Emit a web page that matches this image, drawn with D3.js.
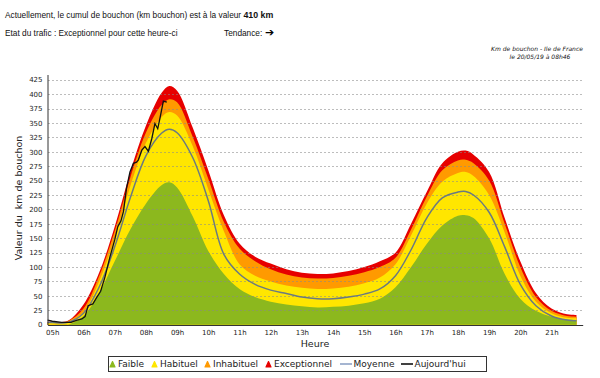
<!DOCTYPE html>
<html>
<head>
<meta charset="utf-8">
<script src="https://cdn.jsdelivr.net/npm/d3@7"></script>
<style>
  body { margin: 0; background: #fff; }
  svg text { font-family: "DejaVu Sans", Verdana, sans-serif; }
</style>
</head>
<body>
<div id="chart"></div>
<script>
// heures de la grille
let hours = [4.85, 5, 5.5, 6, 6.5, 7, 7.5, 8, 8.5, 8.75, 9, 9.5, 10, 10.5, 11, 11.5, 12, 12.5, 13, 13.5, 14, 14.5, 15, 15.5, 16, 16.5, 17, 17.5, 18, 18.25, 18.5, 19, 19.5, 20, 20.5, 21, 21.5, 21.8];

// bornes hautes de chaque niveau (km)
let faible =       [0, 0, 0, 15, 55, 110, 165, 210, 242, 247, 238, 188, 128, 88, 62, 48, 40, 35, 32, 30, 31, 33, 37, 45, 65, 100, 140, 172, 189, 190, 185, 150, 88, 45, 24, 14, 9, 8];
let habituel =     [3, 3, 4, 22, 75, 150, 240, 315, 360, 369, 363, 310, 235, 162, 105, 85, 75, 68, 64, 62, 63, 66, 72, 82, 105, 155, 210, 248, 263, 265, 258, 225, 160, 85, 40, 20, 12, 11];
let inhabituel =   [4, 4, 6, 28, 84, 162, 255, 333, 381, 391, 386, 326, 253, 178, 132, 110, 96, 87, 82, 80, 81, 85, 91, 100, 116, 165, 222, 268, 285, 286, 280, 250, 175, 100, 48, 24, 15, 14];
let exceptionnel = [5, 5, 7, 35, 90, 170, 265, 345, 402, 414, 406, 342, 268, 190, 141, 118, 106, 96, 90, 88, 89, 93, 100, 110, 125, 175, 230, 280, 300, 302, 295, 265, 185, 110, 55, 28, 18, 17];
let moyenne =      [4, 4, 4, 20, 65, 135, 220, 293, 332, 339, 333, 290, 215, 122, 88, 70, 60, 54, 48, 45, 45, 48, 53, 62, 85, 130, 185, 220, 230, 231, 225, 195, 135, 70, 33, 15, 8, 7];

// courbe du jour
let jourHeures = [4.85, 5, 5.3, 5.6, 5.8, 5.95, 6.05, 6.15, 6.3, 6.42, 6.55, 6.69, 6.85, 7, 7.1, 7.2, 7.28, 7.38, 7.49, 7.6, 7.7, 7.76, 7.87, 7.97, 8.08, 8.19, 8.29, 8.38, 8.45, 8.56, 8.67];
let jourValeurs = [8, 6, 4, 4, 8, 10, 14, 33, 36, 47, 58, 83, 118, 147, 170, 180, 196, 237, 265, 280, 282, 286, 303, 309, 301, 323, 349, 340, 358, 388, 386];

let xTicks = [5, 6, 7, 8, 9, 10, 11, 12, 13, 14, 15, 16, 17, 18, 19, 20, 21];
let yTicks = d3.range(0, 426, 25);

let legendItems = [
  { label: "Faible", color: "#8cb81e", kind: "area" },
  { label: "Habituel", color: "#ffe600", kind: "area" },
  { label: "Inhabituel", color: "#ff9a00", kind: "area" },
  { label: "Exceptionnel", color: "#e60000", kind: "area" },
  { label: "Moyenne", color: "#8ea2c6", kind: "line" },
  { label: "Aujourd'hui", color: "#111", kind: "line" }
];

let width = 600, height = 378;

let svg = d3.select("#chart").append("svg")
  .attr("width", width)
  .attr("height", height);

let x = d3.scaleLinear().domain([4.85, 22]).range([47.6, 582.7]);
let y = d3.scaleLinear().domain([0, 434]).range([324.7, 74.5]);

// en-tete
let head = svg.append("text").attr("x", 5).attr("y", 18)
  .style("font-family", "'Liberation Sans', Arial, sans-serif")
  .style("font-size", "8.3px").attr("fill", "#111");
head.append("tspan").text("Actuellement, le cumul de bouchon (km bouchon) est à la valeur ");
head.append("tspan").text("410 km").style("font-weight", "bold").style("font-size", "8.8px");

svg.append("text").attr("x", 5).attr("y", 35.5)
  .style("font-family", "'Liberation Sans', Arial, sans-serif")
  .style("font-size", "8.3px").attr("fill", "#111")
  .text("Etat du trafic : Exceptionnel pour cette heure-ci");

svg.append("text").attr("x", 224).attr("y", 35.5)
  .style("font-family", "'Liberation Sans', Arial, sans-serif")
  .style("font-size", "8.3px").attr("fill", "#111")
  .text("Tendance: ");
svg.append("text").attr("x", 265).attr("y", 36)
  .style("font-size", "11px").style("font-weight", "bold").attr("fill", "#000")
  .text("➔");

svg.append("text").attr("x", 537).attr("y", 51)
  .attr("text-anchor", "middle")
  .style("font-size", "6px").style("font-style", "italic").attr("fill", "#111")
  .text("Km de bouchon - Ile de France");
svg.append("text").attr("x", 540).attr("y", 58.5)
  .attr("text-anchor", "middle")
  .style("font-size", "6px").style("font-style", "italic").attr("fill", "#111")
  .text("le 20/05/19 à 08h46");

// aires
let series = [
  { values: exceptionnel, color: "#e60000" },
  { values: inhabituel, color: "#ff9a00" },
  { values: habituel, color: "#ffe600" },
  { values: faible, color: "#8cb81e" }
];

let curve = d3.curveCatmullRom.alpha(0.5);

let area = d3.area()
  .x(d => x(d[0]))
  .y0(y(0))
  .y1(d => y(Math.max(0, d[1])))
  .curve(curve);

series.forEach(s => {
  svg.append("path")
    .datum(hours.map((h, i) => [h, s.values[i]]))
    .attr("d", area)
    .attr("fill", s.color);
});

// grille
svg.append("g")
  .selectAll("line")
  .data(yTicks.filter(v => v > 0))
  .enter()
  .append("line")
  .attr("x1", 48).attr("x2", 583)
  .attr("y1", d => Math.round(y(d)) + 0.5)
  .attr("y2", d => Math.round(y(d)) + 0.5)
  .attr("stroke", "#888")
  .attr("stroke-opacity", 0.7)
  .attr("stroke-dasharray", "2,2")
  .attr("stroke-width", 0.8);

// moyenne
let line = d3.line()
  .x(d => x(d[0]))
  .y(d => y(d[1]))
  .curve(curve);

svg.append("path")
  .datum(hours.map((h, i) => [h, moyenne[i]]))
  .attr("d", line)
  .attr("fill", "none")
  .attr("stroke", "#6b7a80")
  .attr("stroke-width", 1.5);

// aujourd'hui
svg.append("path")
  .datum(jourHeures.map((h, i) => [h, jourValeurs[i]]))
  .attr("d", d3.line().x(d => x(d[0])).y(d => y(d[1])))
  .attr("fill", "none")
  .attr("stroke", "#111")
  .attr("stroke-width", 1.3);

// axes
let yAxis = svg.append("g")
  .attr("transform", "translate(47.5,0)")
  .call(d3.axisLeft(y).tickValues(yTicks).tickSize(0).tickPadding(5));
yAxis.select(".domain").attr("stroke", "#333");
yAxis.selectAll("text").style("font-size", "7px").attr("fill", "#222");

let xAxis = svg.append("g")
  .attr("transform", "translate(0,325)")
  .call(d3.axisBottom(x).tickValues(xTicks).tickSize(0).tickPadding(5)
    .tickFormat(d => (d < 10 ? "0" : "") + d + "h"));
xAxis.select(".domain").attr("stroke", "#333");
xAxis.selectAll("text").style("font-size", "7px").attr("fill", "#222");

svg.append("text")
  .attr("x", 315).attr("y", 347)
  .attr("text-anchor", "middle")
  .style("font-size", "9.5px").attr("fill", "#222")
  .text("Heure");

svg.append("text")
  .attr("transform", "translate(22,198) rotate(-90)")
  .attr("text-anchor", "middle")
  .style("font-size", "9.5px").attr("fill", "#222")
  .style("white-space", "pre")
  .text("Valeur du  km de bouchon");

// legende
let legend = svg.append("g");
legend.append("rect")
  .attr("x", 108.5).attr("y", 356.5)
  .attr("width", 378).attr("height", 15)
  .attr("fill", "#fff")
  .attr("stroke", "#333");

let legendX = [110, 152, 205, 266, 340, 401];
legendItems.forEach((it, i) => {
  let gx = legendX[i];
  if (it.kind === "area") {
    legend.append("path")
      .attr("d", `M${gx},367 L${gx + 2.5},361.5 L${gx + 5},367 Z`)
      .attr("fill", it.color)
      .attr("stroke", it.color)
      .attr("stroke-width", 1.2)
      .attr("stroke-linejoin", "round");
    legend.append("text")
      .attr("x", gx + 8).attr("y", 367.3)
      .style("font-size", "9px").attr("fill", "#222")
      .text(it.label);
  } else {
    legend.append("line")
      .attr("x1", gx).attr("x2", gx + 12)
      .attr("y1", 364).attr("y2", 364)
      .attr("stroke", it.color)
      .attr("stroke-width", 1.6);
    legend.append("text")
      .attr("x", gx + 13.5).attr("y", 367.3)
      .style("font-size", "9px").attr("fill", "#222")
      .text(it.label);
  }
});
</script>
</body>
</html>
